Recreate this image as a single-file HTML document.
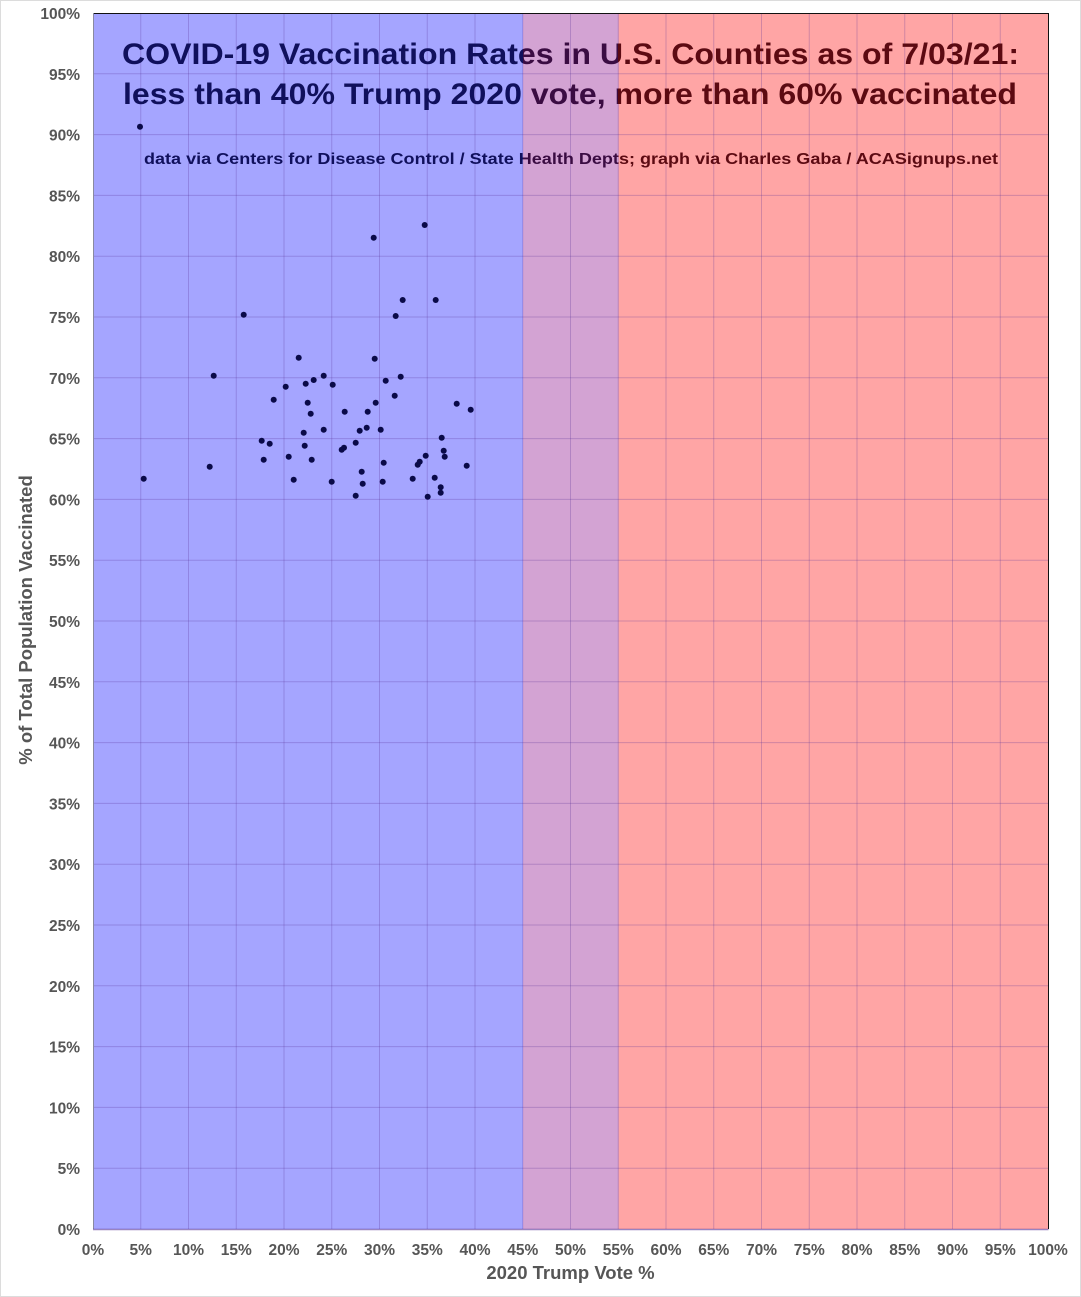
<!DOCTYPE html>
<html><head><meta charset="utf-8"><style>
html,body{margin:0;padding:0;background:#fff;}
svg{display:block;}
</style></head><body>
<svg width="1081" height="1297" viewBox="0 0 1081 1297" xmlns="http://www.w3.org/2000/svg">
<defs>
<linearGradient id="tg" gradientUnits="userSpaceOnUse" x1="0" y1="0" x2="1081" y2="0">
<stop offset="0" stop-color="#10105c"/>
<stop offset="0.4838" stop-color="#10105c"/>
<stop offset="0.4838" stop-color="#3a0c42"/>
<stop offset="0.5717" stop-color="#3a0c42"/>
<stop offset="0.5717" stop-color="#5c0a12"/>
<stop offset="1" stop-color="#5c0a12"/>
</linearGradient>
</defs>
<rect x="0.5" y="0.5" width="1080" height="1296" fill="#fff" stroke="#dcdcdc" stroke-width="1"/>
<rect x="93" y="13" width="430" height="1216" fill="#a5a5ff"/>
<rect x="523" y="13" width="95.5" height="1216" fill="#d3a3d3"/>
<rect x="618.5" y="13" width="430" height="1216" fill="#ffa5a5"/>
<g stroke="rgba(90,50,150,0.28)" stroke-width="1">
<line x1="140.75" y1="13" x2="140.75" y2="1229"/>
<line x1="188.5" y1="13" x2="188.5" y2="1229"/>
<line x1="236.25" y1="13" x2="236.25" y2="1229"/>
<line x1="284" y1="13" x2="284" y2="1229"/>
<line x1="331.75" y1="13" x2="331.75" y2="1229"/>
<line x1="379.5" y1="13" x2="379.5" y2="1229"/>
<line x1="427.25" y1="13" x2="427.25" y2="1229"/>
<line x1="475" y1="13" x2="475" y2="1229"/>
<line x1="522.75" y1="13" x2="522.75" y2="1229"/>
<line x1="570.5" y1="13" x2="570.5" y2="1229"/>
<line x1="618.25" y1="13" x2="618.25" y2="1229"/>
<line x1="666" y1="13" x2="666" y2="1229"/>
<line x1="713.75" y1="13" x2="713.75" y2="1229"/>
<line x1="761.5" y1="13" x2="761.5" y2="1229"/>
<line x1="809.25" y1="13" x2="809.25" y2="1229"/>
<line x1="857" y1="13" x2="857" y2="1229"/>
<line x1="904.75" y1="13" x2="904.75" y2="1229"/>
<line x1="952.5" y1="13" x2="952.5" y2="1229"/>
<line x1="1000.25" y1="13" x2="1000.25" y2="1229"/>
<line x1="93" y1="73.8" x2="1048" y2="73.8"/>
<line x1="93" y1="134.6" x2="1048" y2="134.6"/>
<line x1="93" y1="195.4" x2="1048" y2="195.4"/>
<line x1="93" y1="256.2" x2="1048" y2="256.2"/>
<line x1="93" y1="317" x2="1048" y2="317"/>
<line x1="93" y1="377.8" x2="1048" y2="377.8"/>
<line x1="93" y1="438.6" x2="1048" y2="438.6"/>
<line x1="93" y1="499.4" x2="1048" y2="499.4"/>
<line x1="93" y1="560.2" x2="1048" y2="560.2"/>
<line x1="93" y1="621" x2="1048" y2="621"/>
<line x1="93" y1="681.8" x2="1048" y2="681.8"/>
<line x1="93" y1="742.6" x2="1048" y2="742.6"/>
<line x1="93" y1="803.4" x2="1048" y2="803.4"/>
<line x1="93" y1="864.2" x2="1048" y2="864.2"/>
<line x1="93" y1="925" x2="1048" y2="925"/>
<line x1="93" y1="985.8" x2="1048" y2="985.8"/>
<line x1="93" y1="1046.6" x2="1048" y2="1046.6"/>
<line x1="93" y1="1107.4" x2="1048" y2="1107.4"/>
<line x1="93" y1="1168.2" x2="1048" y2="1168.2"/>
</g>
<line x1="93" y1="13.5" x2="1048.5" y2="13.5" stroke="#111" stroke-width="1"/>
<line x1="1048.5" y1="13" x2="1048.5" y2="1229" stroke="#111" stroke-width="1"/>
<line x1="93.5" y1="13" x2="93.5" y2="1229" stroke="#8a8aa0" stroke-width="1"/>
<line x1="93" y1="1229.5" x2="1048.5" y2="1229.5" stroke="rgba(70,30,140,0.55)" stroke-width="1.5"/>

<g font-family="'Liberation Sans', Arial, sans-serif" font-weight="bold" font-size="15.5" fill="#565656" text-anchor="end">
<text x="80" y="19">100%</text>
<text x="80" y="79.8">95%</text>
<text x="80" y="140.6">90%</text>
<text x="80" y="201.4">85%</text>
<text x="80" y="262.2">80%</text>
<text x="80" y="323">75%</text>
<text x="80" y="383.8">70%</text>
<text x="80" y="444.6">65%</text>
<text x="80" y="505.4">60%</text>
<text x="80" y="566.2">55%</text>
<text x="80" y="627">50%</text>
<text x="80" y="687.8">45%</text>
<text x="80" y="748.6">40%</text>
<text x="80" y="809.4">35%</text>
<text x="80" y="870.2">30%</text>
<text x="80" y="931">25%</text>
<text x="80" y="991.8">20%</text>
<text x="80" y="1052.6">15%</text>
<text x="80" y="1113.4">10%</text>
<text x="80" y="1174.2">5%</text>
<text x="80" y="1235">0%</text>
</g>
<g font-family="'Liberation Sans', Arial, sans-serif" font-weight="bold" font-size="15.5" fill="#565656" text-anchor="middle">
<text x="93" y="1255">0%</text>
<text x="140.75" y="1255">5%</text>
<text x="188.5" y="1255">10%</text>
<text x="236.25" y="1255">15%</text>
<text x="284" y="1255">20%</text>
<text x="331.75" y="1255">25%</text>
<text x="379.5" y="1255">30%</text>
<text x="427.25" y="1255">35%</text>
<text x="475" y="1255">40%</text>
<text x="522.75" y="1255">45%</text>
<text x="570.5" y="1255">50%</text>
<text x="618.25" y="1255">55%</text>
<text x="666" y="1255">60%</text>
<text x="713.75" y="1255">65%</text>
<text x="761.5" y="1255">70%</text>
<text x="809.25" y="1255">75%</text>
<text x="857" y="1255">80%</text>
<text x="904.75" y="1255">85%</text>
<text x="952.5" y="1255">90%</text>
<text x="1000.25" y="1255">95%</text>
<text x="1048" y="1255">100%</text>
</g>
<text x="570.5" y="1279" font-family="'Liberation Sans', Arial, sans-serif" font-weight="bold" font-size="18.5" fill="#565656" text-anchor="middle">2020 Trump Vote %</text>
<text transform="translate(32,620) rotate(-90)" font-family="'Liberation Sans', Arial, sans-serif" font-weight="bold" font-size="18.5" fill="#565656" text-anchor="middle">% of Total Population Vaccinated</text>

<g font-family="'Liberation Sans', Arial, sans-serif" font-weight="bold" fill="url(#tg)">
<text x="122" y="64" font-size="30" textLength="897" lengthAdjust="spacingAndGlyphs">COVID-19 Vaccination Rates in U.S. Counties as of 7/03/21:</text>
<text x="123" y="104" font-size="30" textLength="894" lengthAdjust="spacingAndGlyphs">less than 40% Trump 2020 vote, more than 60% vaccinated</text>
<text x="144" y="164" font-size="16" textLength="854" lengthAdjust="spacingAndGlyphs">data via Centers for Disease Control / State Health Depts; graph via Charles Gaba / ACASignups.net</text>
</g>

<g fill="#0a0a48">
<circle cx="140" cy="126.7" r="3"/>
<circle cx="143.7" cy="478.7" r="3"/>
<circle cx="209.7" cy="466.7" r="3"/>
<circle cx="213.7" cy="375.7" r="3"/>
<circle cx="243.7" cy="314.7" r="3"/>
<circle cx="424.7" cy="225" r="3"/>
<circle cx="373.7" cy="237.7" r="3"/>
<circle cx="402.7" cy="300" r="3"/>
<circle cx="435.7" cy="300" r="3"/>
<circle cx="395.7" cy="316" r="3"/>
<circle cx="298.7" cy="357.7" r="3"/>
<circle cx="374.7" cy="358.7" r="3"/>
<circle cx="323.7" cy="375.7" r="3"/>
<circle cx="400.7" cy="376.7" r="3"/>
<circle cx="313.7" cy="380" r="3"/>
<circle cx="305.7" cy="383.7" r="3"/>
<circle cx="332.7" cy="384.7" r="3"/>
<circle cx="385.7" cy="380.7" r="3"/>
<circle cx="285.7" cy="386.7" r="3"/>
<circle cx="394.7" cy="395.7" r="3"/>
<circle cx="273.7" cy="399.7" r="3"/>
<circle cx="307.7" cy="402.7" r="3"/>
<circle cx="375.7" cy="402.7" r="3"/>
<circle cx="456.7" cy="403.7" r="3"/>
<circle cx="470.7" cy="409.7" r="3"/>
<circle cx="310.7" cy="413.7" r="3"/>
<circle cx="344.7" cy="411.7" r="3"/>
<circle cx="367.7" cy="411.7" r="3"/>
<circle cx="323.7" cy="429.7" r="3"/>
<circle cx="303.7" cy="432.7" r="3"/>
<circle cx="359.7" cy="430.7" r="3"/>
<circle cx="366.7" cy="427.7" r="3"/>
<circle cx="380.7" cy="429.7" r="3"/>
<circle cx="441.7" cy="437.7" r="3"/>
<circle cx="261.7" cy="440.7" r="3"/>
<circle cx="269.7" cy="443.7" r="3"/>
<circle cx="304.7" cy="445.7" r="3"/>
<circle cx="355.7" cy="442.7" r="3"/>
<circle cx="341.7" cy="449.7" r="3"/>
<circle cx="344" cy="447.7" r="3"/>
<circle cx="443.7" cy="450.7" r="3"/>
<circle cx="444.7" cy="456.7" r="3"/>
<circle cx="263.7" cy="459.7" r="3"/>
<circle cx="288.7" cy="456.7" r="3"/>
<circle cx="311.7" cy="459.7" r="3"/>
<circle cx="425.7" cy="455.7" r="3"/>
<circle cx="383.7" cy="462.7" r="3"/>
<circle cx="417.7" cy="464.7" r="3"/>
<circle cx="419.7" cy="461.7" r="3"/>
<circle cx="466.7" cy="465.7" r="3"/>
<circle cx="361.7" cy="471.7" r="3"/>
<circle cx="293.7" cy="479.7" r="3"/>
<circle cx="331.7" cy="481.7" r="3"/>
<circle cx="362.7" cy="483.7" r="3"/>
<circle cx="382.7" cy="481.7" r="3"/>
<circle cx="412.7" cy="478.7" r="3"/>
<circle cx="434.7" cy="477.7" r="3"/>
<circle cx="440.7" cy="487.3" r="3"/>
<circle cx="440.7" cy="492.7" r="3"/>
<circle cx="355.7" cy="495.7" r="3"/>
<circle cx="427.7" cy="496.7" r="3"/>
</g>
</svg>
</body></html>
